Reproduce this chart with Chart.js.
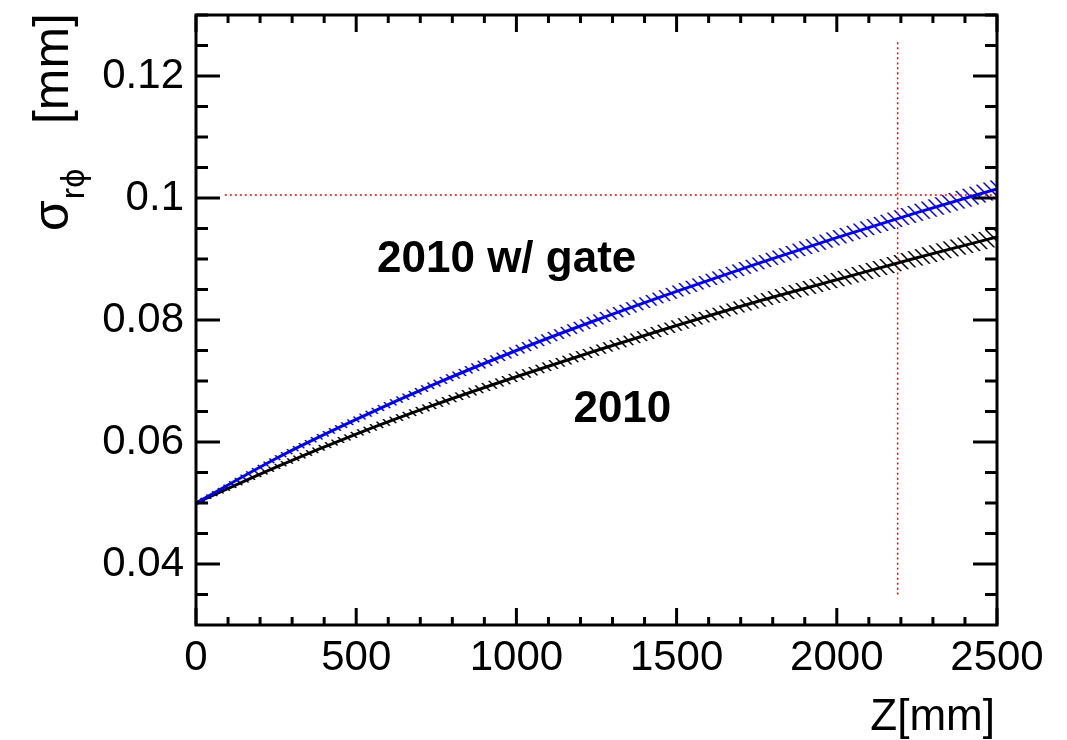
<!DOCTYPE html>
<html>
<head>
<meta charset="utf-8">
<script src="https://cdn.jsdelivr.net/npm/chart.js@4/dist/chart.umd.min.js"></script>
<style>
  html, body { margin:0; padding:0; background:#fff; }
  canvas { display:block; }
</style>
</head>
<body>
<canvas id="grafico" width="1067" height="740"></canvas>
<script>
// valores
const zValues   = [0, 250, 500, 750, 1000, 1250, 1500, 1750, 2000, 2250, 2500]; // mm
const sigma2010 = [0.0500, 0.0559, 0.0613, 0.0662, 0.0707, 0.0750, 0.0791, 0.0830, 0.0866, 0.0902, 0.0936];
const sigmaGate = [0.0500, 0.0573, 0.0637, 0.0696, 0.0750, 0.0800, 0.0847, 0.0892, 0.0935, 0.0976, 0.1015];
const err2010   = [0.0004, 0.0006, 0.0007, 0.0008, 0.0009, 0.0010, 0.0011, 0.0012, 0.0014, 0.0015, 0.0016];
const errGate   = [0.0004, 0.0006, 0.0007, 0.0008, 0.0010, 0.0011, 0.0012, 0.0013, 0.0014, 0.0016, 0.0017];

const xTicks = [0, 500, 1000, 1500, 2000, 2500];
const yTicks = [0.04, 0.06, 0.08, 0.10, 0.12];
const yTickLabels = ['0.04', '0.06', '0.08', '0.1', '0.12'];

// lineas de referencia (rojo punteado)
const refZ = [90, 2500], refSigma = 0.1005;
const cutZ = 2190, cutSigma = [0.035, 0.126];

const FONT = "'Liberation Sans', Arial, Helvetica, sans-serif";

// relleno rayado "\" tipo ROOT
function hatch(color) {
  const s = 9;
  const c = document.createElement('canvas');
  c.width = s; c.height = s;
  const g = c.getContext('2d');
  g.strokeStyle = color;
  g.lineWidth = 1.5;
  g.beginPath();
  g.moveTo(-1, -1); g.lineTo(s + 1, s + 1);
  g.moveTo(-1, s - 1); g.lineTo(1, s + 1);
  g.moveTo(s - 1, -1); g.lineTo(s + 1, 1);
  g.stroke();
  return g.createPattern(c, 'repeat');
}

const pts = ys => zValues.map((z, i) => ({ x: z, y: ys[i] }));
const band = (ys, es, sign) => zValues.map((z, i) => ({ x: z, y: ys[i] + sign * es[i] }));

// marco, ticks internos y textos (estilo ROOT)
const rootFrame = {
  id: 'rootFrame',
  afterDraw(chart) {
    const { ctx, chartArea: a, scales: { x, y } } = chart;
    ctx.save();
    ctx.strokeStyle = '#000';
    ctx.lineWidth = 3;
    ctx.beginPath();
    for (let z = 0; z <= 2500; z += 100) {
      const px = x.getPixelForValue(z);
      const len = z % 500 === 0 ? 17 : 8;
      ctx.moveTo(px, a.bottom); ctx.lineTo(px, a.bottom - len);
      ctx.moveTo(px, a.top); ctx.lineTo(px, a.top + len);
    }
    for (let k = 7; k <= 26; k++) {
      const py = y.getPixelForValue(k * 0.005);
      const len = k % 4 === 0 ? 24 : 12;
      ctx.moveTo(a.left, py); ctx.lineTo(a.left + len, py);
      ctx.moveTo(a.right, py); ctx.lineTo(a.right - len, py);
    }
    ctx.stroke();
    ctx.strokeRect(a.left, a.top, a.right - a.left, a.bottom - a.top);

    // etiquetas de las curvas
    ctx.fillStyle = '#000';
    ctx.font = 'bold 44px ' + FONT;
    ctx.textAlign = 'left';
    ctx.textBaseline = 'alphabetic';
    ctx.fillText('2010 w/ gate', x.getPixelForValue(565), y.getPixelForValue(0.0878));
    ctx.fillText('2010', x.getPixelForValue(1178), y.getPixelForValue(0.0633));

    // titulo eje X
    ctx.font = '44px ' + FONT;
    ctx.textAlign = 'right';
    ctx.fillText('Z[mm]', 995, 730);

    // titulo eje Y: sigma_{r phi}  [mm]
    ctx.translate(68, 231);
    ctx.rotate(-Math.PI / 2);
    ctx.textAlign = 'left';
    ctx.font = '50px ' + FONT;
    ctx.fillText('σ', 0, 0);
    const w = ctx.measureText('σ').width;
    ctx.font = '34px ' + FONT;
    ctx.fillText('rϕ', w + 1, 16);
    ctx.font = '50px ' + FONT;
    ctx.textAlign = 'right';
    ctx.fillText('[mm]', 218, 0);
    ctx.restore();
  }
};

const lineStyle = { pointRadius: 0, showLine: true, cubicInterpolationMode: 'monotone' };
const noBorder = { borderWidth: 0, borderColor: 'rgba(0,0,0,0)' };

new Chart(document.getElementById('grafico').getContext('2d'), {
  type: 'scatter',
  data: {
    datasets: [
      { ...lineStyle, label: '2010 w/ gate', data: pts(sigmaGate), borderColor: '#0000ff', borderWidth: 3, order: 0 },
      { ...lineStyle, label: '2010', data: pts(sigma2010), borderColor: '#000000', borderWidth: 3, order: 0 },
      { ...lineStyle, label: 'ref h', data: refZ.map(z => ({ x: z, y: refSigma })), borderColor: '#ff0000',
        borderWidth: 1.5, borderDash: [2, 3], order: 1 },
      { ...lineStyle, label: 'ref v', data: cutSigma.map(s => ({ x: cutZ, y: s })), borderColor: '#ff0000',
        borderWidth: 1.5, borderDash: [2, 3], order: 1 },
      { ...lineStyle, ...noBorder, label: 'gate up', data: band(sigmaGate, errGate, 1),
        fill: '+1', backgroundColor: hatch('#0000ff'), order: 2 },
      { ...lineStyle, ...noBorder, label: 'gate low', data: band(sigmaGate, errGate, -1), fill: false, order: 2 },
      { ...lineStyle, ...noBorder, label: '2010 up', data: band(sigma2010, err2010, 1),
        fill: '+1', backgroundColor: hatch('#000000'), order: 2 },
      { ...lineStyle, ...noBorder, label: '2010 low', data: band(sigma2010, err2010, -1), fill: false, order: 2 }
    ]
  },
  options: {
    responsive: false,
    animation: false,
    devicePixelRatio: 1,
    layout: { padding: { left: 0, top: 15, right: 70, bottom: 0 } },
    plugins: { legend: { display: false }, tooltip: { enabled: false } },
    scales: {
      x: {
        type: 'linear', min: 0, max: 2500,
        grid: { display: false, drawTicks: false },
        border: { display: false },
        afterFit: s => { s.height = 115; s.paddingLeft = 0; s.paddingRight = 0; },
        afterBuildTicks: s => { s.ticks = xTicks.map(v => ({ value: v })); },
        ticks: { padding: 8, color: '#000', font: { family: FONT, size: 42 }, maxRotation: 0,
                 callback: v => String(v) }
      },
      y: {
        type: 'linear', min: 0.03, max: 0.13,
        grid: { display: false, drawTicks: false },
        border: { display: false },
        afterFit: s => { s.width = 196; s.paddingTop = 0; s.paddingBottom = 0; },
        afterBuildTicks: s => { s.ticks = yTicks.map(v => ({ value: v })); },
        ticks: { padding: 12, color: '#000', font: { family: FONT, size: 42 },
                 callback: v => yTickLabels[yTicks.findIndex(t => Math.abs(t - v) < 1e-9)] }
      }
    }
  },
  plugins: [rootFrame]
});
</script>
</body>
</html>
